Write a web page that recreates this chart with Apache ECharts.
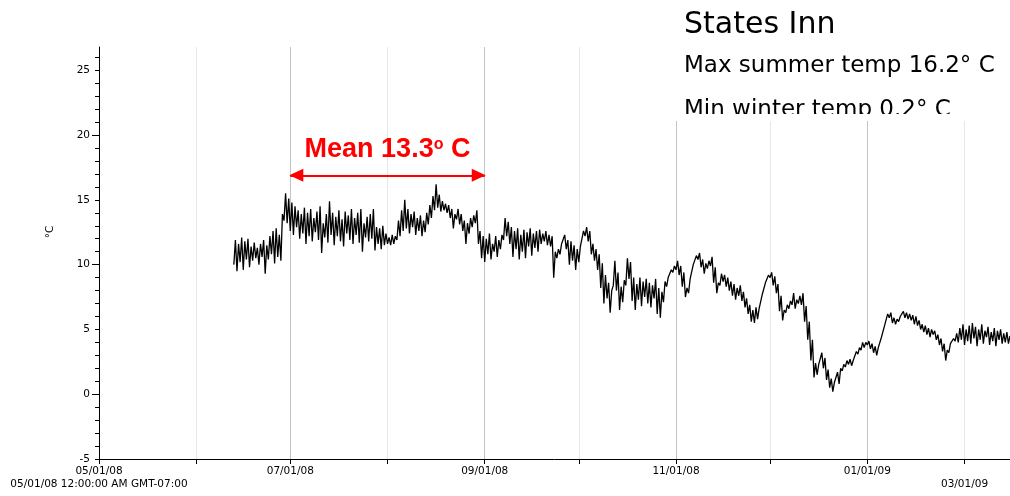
<!DOCTYPE html>
<html>
<head>
<meta charset="utf-8">
<script src="https://cdn.jsdelivr.net/npm/echarts@6/dist/echarts.min.js"></script>
<style>
  html, body { margin: 0; padding: 0; background: #fff; }
  #chart { width: 1010px; height: 496px; }
</style>
</head>
<body>
<div id="chart"></div>
<script>
// States Inn logger: one low and one high reading per day (°C), starting 06/13/08
const firstDay = 43; // days after 05/01/08
const dailyLow = [
  10.0, 9.5, 10.2, 9.6, 10.4, 9.8, 10.3,
  10.5, 10.0, 10.6, 9.3,
  10.4, 10.8, 10.1, 10.6, 10.3, 13.4, 13.2,
  12.6, 12.3, 12.9, 12.0, 12.4, 11.6, 12.2, 11.8, 12.5, 11.9,
  10.9, 12.1, 11.7, 12.3, 11.5, 12.2, 11.8, 11.4, 12.4, 11.9,
  11.6, 12.3, 11.7, 11.0, 12.1, 11.8, 12.0, 11.1, 11.6, 11.2, 11.5,
  11.6, 11.5, 11.6, 11.9, 12.2, 12.6, 12.8, 12.4, 12.9, 12.3,
  12.6, 12.2, 12.5, 13.1, 13.6, 14.2, 14.4, 14.1, 14.2, 14.0,
  13.6, 12.8, 13.5, 13.1, 12.6, 11.6, 12.4, 12.9, 13.2, 11.6, 10.5,
  10.2, 10.8, 10.4, 11.0, 10.6, 11.2, 11.9, 12.2, 11.6, 10.6,
  11.2, 10.4, 11.0, 10.5, 11.4, 10.7, 11.3, 11.0, 11.6, 11.8,
  11.5, 11.4, 9.0, 10.5, 10.8, 11.5, 11.2, 10.0, 10.3, 9.6,
  10.2, 11.5, 12.2, 11.8, 10.8, 10.3, 9.6, 8.2, 7.0, 7.4,
  6.3, 8.4, 8.0, 6.5, 7.1, 8.4, 8.9, 7.2, 6.5, 7.3,
  6.8, 7.5, 7.0, 6.7, 7.4, 6.2, 5.9, 7.1, 8.3, 8.9, 9.4,
  9.6, 9.2, 8.3, 7.5, 7.8, 9.0, 10.1, 10.4, 9.8, 9.3,
  9.7, 9.9, 8.6, 7.8, 8.4, 8.7, 8.3, 8.0, 7.6, 7.3,
  7.6, 7.2, 6.7, 6.2, 5.6, 5.5, 5.8, 6.6, 7.7, 8.6,
  9.0, 8.4, 7.8, 6.4, 5.7, 6.3, 6.6, 6.9, 6.6, 7.0,
  6.9, 5.6, 4.2, 2.6, 1.3, 1.5, 2.4, 2.0, 1.1, 0.5,
  0.2, 1.0, 0.8, 1.8, 2.1, 2.3, 2.2, 2.6, 3.1, 3.4, 3.6,
  3.8, 3.5, 3.2, 3.0, 3.5, 4.4, 5.3, 5.9, 5.5, 5.4,
  5.6, 6.0, 5.9, 5.8, 5.7, 5.4, 5.3, 5.0, 4.8, 4.6,
  4.4, 4.6, 4.2, 3.8, 3.3, 2.6, 3.2, 3.8, 4.1, 4.0, 4.2,
  3.8, 4.1, 3.9, 4.3, 3.7, 4.2, 3.9, 4.4, 3.8, 4.1, 3.7, 4.2, 3.9, 4.0, 3.9
];
const dailyHigh = [
  11.9, 11.6, 12.1, 11.8, 12.0, 11.4, 11.7,
  11.3, 11.6, 11.9, 11.5,
  12.2, 12.6, 12.8, 12.3, 13.9, 15.5, 15.1,
  14.8, 14.5, 14.2, 13.9, 14.4, 14.0, 14.3, 13.6, 14.1, 14.5,
  13.2, 13.9, 14.9, 14.0, 13.7, 14.2, 13.5, 14.1, 13.8, 14.3,
  13.6, 14.0, 14.3, 13.2, 13.7, 13.9, 14.3, 12.9, 12.8, 13.0, 12.4,
  12.1, 12.3, 12.2, 13.4, 14.2, 15.0, 14.3, 13.9, 14.1, 13.6,
  13.8, 13.4, 14.0, 14.6, 15.3, 16.2, 15.4, 14.9, 14.7, 14.6,
  14.3, 13.9, 14.3, 13.9, 13.4, 13.2, 13.6, 13.8, 14.2, 12.6, 12.2,
  12.0, 12.4, 11.6, 12.2, 11.9, 12.3, 13.6, 13.3, 12.9, 12.6,
  12.8, 12.3, 12.7, 12.5, 12.8, 12.4, 12.6, 12.7, 12.4, 12.6,
  12.3, 12.2, 11.0, 11.2, 11.6, 12.3, 11.9, 11.8, 11.5, 11.2,
  11.4, 12.6, 12.9, 12.6, 11.6, 11.2, 10.8, 10.1, 9.2, 8.6,
  8.0, 10.3, 9.4, 8.3, 8.8, 10.5, 10.2, 9.0, 8.5, 9.0,
  8.7, 8.9, 8.6, 8.4, 8.9, 8.2, 7.9, 8.7, 9.0, 9.6, 9.9,
  10.3, 9.9, 9.4, 8.2, 8.9, 10.0, 10.7, 10.9, 10.4, 10.1,
  10.3, 10.6, 9.8, 8.6, 9.3, 9.2, 9.0, 8.7, 8.5, 8.2,
  8.4, 7.9, 7.4, 6.9, 6.5, 6.7, 6.6, 7.7, 8.6, 9.2,
  9.4, 9.1, 8.5, 7.6, 6.5, 6.9, 7.2, 7.8, 7.3, 7.6,
  7.8, 6.8, 5.6, 4.2, 2.4, 2.3, 3.2, 2.8, 1.9, 1.2,
  0.9, 1.7, 2.0, 2.3, 2.6, 2.7, 2.6, 3.3, 3.6, 4.0, 4.0,
  4.1, 3.9, 3.7, 3.6, 4.4, 5.3, 6.2, 6.3, 5.9, 5.8,
  6.0, 6.4, 6.3, 6.2, 6.1, 6.0, 5.7, 5.4, 5.3, 5.1,
  5.0, 4.9, 4.6, 4.3, 3.9, 3.4, 3.9, 4.3, 4.7, 5.1, 5.4,
  5.0, 5.3, 5.5, 5.2, 5.0, 5.4, 4.9, 5.2, 4.8, 5.1, 4.9, 5.0, 4.7, 4.8, 4.5
];

// Axis ticks and labels
const yLabelValues = [-5, 0, 5, 10, 15, 20, 25];
const yLongTicks = [0, 10, 20];
const yShortTicks = [-5, -4, -3, -2, -1, 1, 2, 3, 4, 5, 6, 7, 8, 9, 11, 12, 13, 14, 15, 16, 17, 18, 19, 21, 22, 23, 24, 25, 26];
const labelledMonths = ['05/01/08', '07/01/08', '09/01/08', '11/01/08', '01/01/09', '02/01/09'];
const labelText = {
  '05/01/08': '05/01/08\n05/01/08 12:00:00 AM GMT-07:00',
  '02/01/09': '\n03/01/09'
};

// Annotations
const siteName = 'States Inn';
const maxSummerTemp = 16.2;
const minWinterTemp = 0.2;
const meanSummerTemp = 13.3;
const meanSpan = ['07/01/08', '09/01/08'];
const meanArrowLevel = 16.9;

// Half-day slots from 05/01/08 to 02/16/09
const slotCount = 582;
const startUTC = Date.UTC(2008, 4, 1);
const HALF_DAY = 43200000;
const pad = n => String(n).padStart(2, '0');
const fmt = t => {
  const d = new Date(t);
  return pad(d.getUTCMonth() + 1) + '/' + pad(d.getUTCDate()) + '/' + pad(d.getUTCFullYear() % 100);
};
const categories = [];
const isMonthStart = [];
for (let i = 0; i < slotCount; i++) {
  const t = startUTC + i * HALF_DAY;
  categories.push(fmt(t) + (i % 2 ? ' 12:00' : ''));
  isMonthStart.push(i % 2 === 0 && new Date(t).getUTCDate() === 1);
}

// low reading in the first half of each day, high reading in the second half
const temps = new Array(slotCount).fill(null);
for (let k = 0; k < dailyLow.length; k++) {
  const d = firstDay + k;
  temps[2 * d] = dailyLow[k];
  temps[2 * d + 1] = dailyHigh[k];
}

const FONT = 'DejaVu Sans';
const RED = '#ff0000';

const chart = echarts.init(document.getElementById('chart'));
chart.setOption({
  animation: false,
  backgroundColor: '#fff',
  grid: { left: 99, right: 0, top: 47, bottom: 37, containLabel: false },
  xAxis: {
    type: 'category',
    data: categories,
    boundaryGap: false,
    axisLine: { onZero: false, lineStyle: { color: '#000', width: 1 } },
    axisTick: {
      show: true, length: 5,
      interval: (i) => isMonthStart[i],
      lineStyle: { color: '#000' }
    },
    axisLabel: {
      interval: (i, v) => labelledMonths.indexOf(v) >= 0,
      formatter: v => labelText[v] || v,
      color: '#000', fontFamily: FONT, fontSize: 10.5, margin: 6, lineHeight: 13
    },
    splitLine: {
      show: true,
      interval: (i) => isMonthStart[i],
      lineStyle: { color: ['#c4c4c4', '#e6e6e6'], width: 1 }
    }
  },
  yAxis: [{
    type: 'value', min: -5, max: 26.8, interval: 5,
    axisLine: { show: true, lineStyle: { color: '#000', width: 1 } },
    axisTick: { show: true, length: 7, customValues: yLongTicks, lineStyle: { color: '#000' } },
    axisLabel: { customValues: yLabelValues, color: '#000', fontFamily: FONT, fontSize: 10.5, margin: 9 },
    splitLine: { show: false }
  }, {
    type: 'value', min: -5, max: 26.8, position: 'left',
    axisLine: { show: false },
    axisTick: { show: true, length: 4, customValues: yShortTicks, lineStyle: { color: '#000' } },
    axisLabel: { show: false },
    splitLine: { show: false }
  }],
  series: [{
    type: 'line',
    data: temps,
    showSymbol: false,
    connectNulls: false,
    lineStyle: { color: '#000', width: 1.3 },
    itemStyle: { color: '#000' },
    emphasis: { disabled: true },
    markLine: {
      silent: true,
      animation: false,
      symbol: ['triangle', 'triangle'],
      symbolSize: [13, 14],
      symbolOffset: [[0, 6], [0, 6]],
      lineStyle: { color: RED, width: 2, type: 'solid' },
      label: {
        show: true,
        position: 'insideMiddleTop',
        distance: 12,
        formatter: '{t|Mean ' + meanSummerTemp.toFixed(1) + '}{s|o}{t| C}',
        rich: {
          t: { fontFamily: 'Liberation Sans', fontWeight: 'bold', fontSize: 27, color: RED },
          s: { fontFamily: 'Liberation Sans', fontWeight: 'bold', fontSize: 16, lineHeight: 11, color: RED, verticalAlign: 'top' }
        }
      },
      data: [[
        { coord: [meanSpan[0], meanArrowLevel] },
        { coord: [meanSpan[1], meanArrowLevel] }
      ]]
    }
  }],
  graphic: [
    {
      type: 'text', x: 50, y: 232, rotation: Math.PI / 2,
      style: { text: '°C', fontFamily: FONT, fontSize: 10.5, fill: '#000', align: 'center', verticalAlign: 'middle' }
    },
    { type: 'rect', z: 100, shape: { x: 640, y: 0, width: 370, height: 114 }, style: { fill: '#fff' } },
    {
      type: 'text', z: 101, x: 684, y: 25,
      style: { text: siteName, fontFamily: FONT, fontSize: 30, fill: '#000', align: 'left', verticalAlign: 'middle' }
    },
    {
      type: 'text', z: 101, x: 684, y: 66,
      style: { text: 'Max summer temp ' + maxSummerTemp.toFixed(1) + '° C', fontFamily: FONT, fontSize: 23, fill: '#000', align: 'left', verticalAlign: 'middle' }
    },
    {
      type: 'text', z: 101, x: 684, y: 110,
      style: { text: 'Min winter temp ' + minWinterTemp.toFixed(1) + '° C', fontFamily: FONT, fontSize: 23, fill: '#000', align: 'left', verticalAlign: 'middle' }
    },
    { type: 'rect', z: 102, shape: { x: 640, y: 114, width: 370, height: 7 }, style: { fill: '#fff' } }
  ]
});
</script>
</body>
</html>
